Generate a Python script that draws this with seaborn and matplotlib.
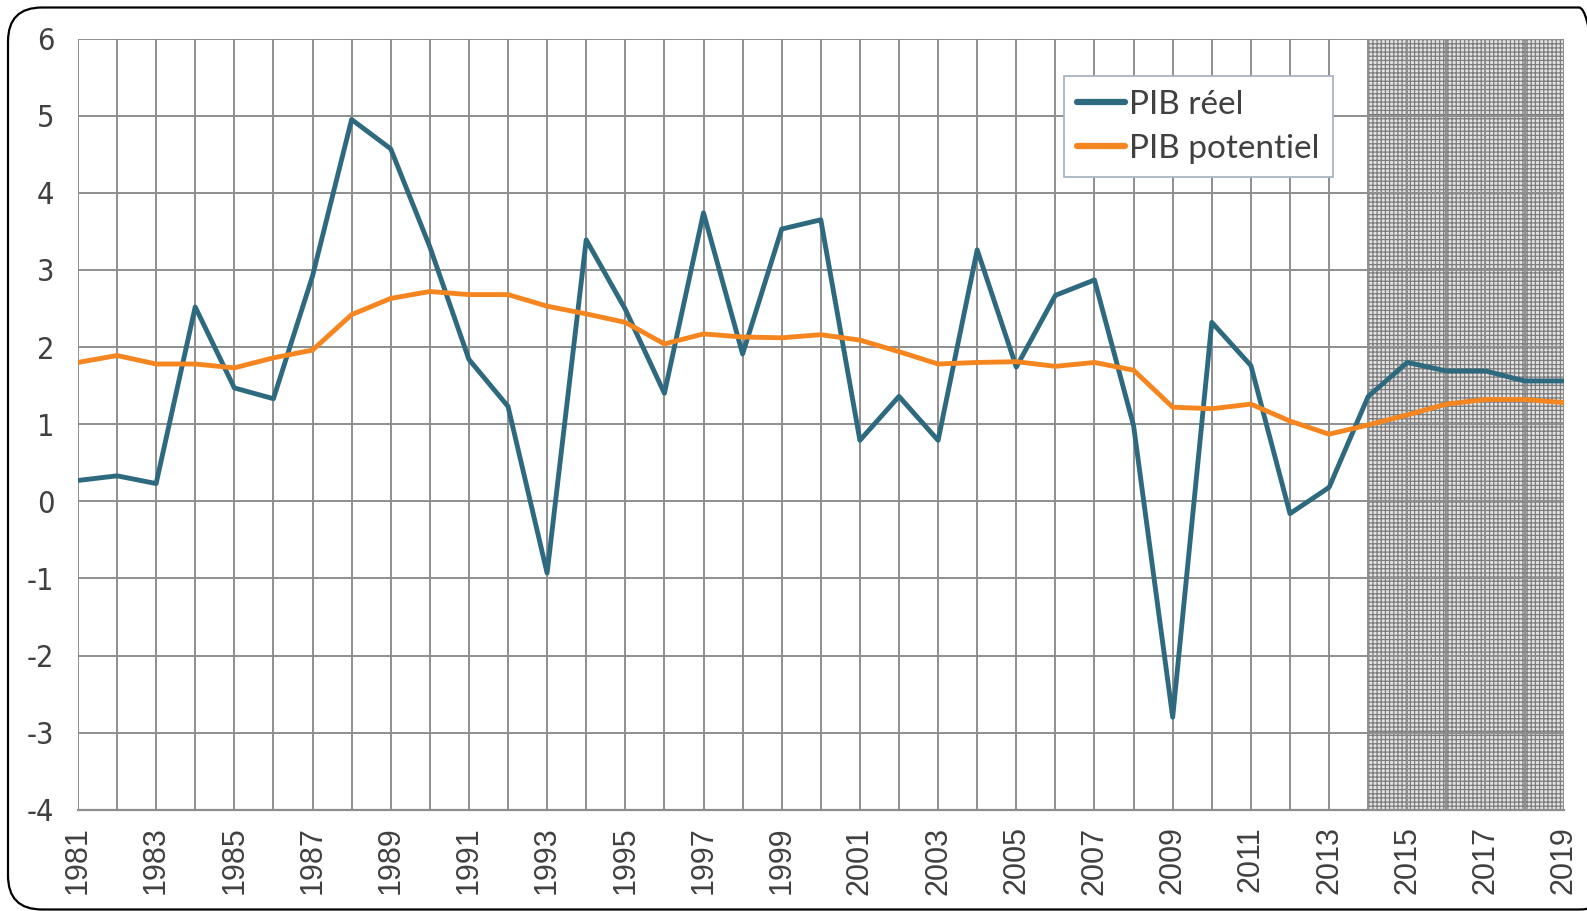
import matplotlib

matplotlib.use("Agg")

import matplotlib.pyplot as plt
import numpy as np
import pandas as pd
import seaborn as sns
from matplotlib.patches import FancyBboxPatch

years = list(range(1981, 2020))

pib_reel = [
    0.27, 0.33, 0.23, 2.52, 1.47, 1.33, 2.92, 4.95, 4.57, 3.30,
    1.84, 1.23, -0.93, 3.39, 2.49, 1.40, 3.74, 1.91, 3.53, 3.65,
    0.79, 1.36, 0.79, 3.26, 1.74, 2.67, 2.87, 0.98, -2.80, 2.32,
    1.76, -0.16, 0.18, 1.36, 1.80, 1.69, 1.69, 1.56, 1.56,
]
pib_potentiel = [
    1.80, 1.89, 1.78, 1.78, 1.73, 1.86, 1.96, 2.42, 2.63, 2.72,
    2.68, 2.68, 2.53, 2.43, 2.32, 2.04, 2.17, 2.13, 2.12, 2.16,
    2.09, 1.94, 1.78, 1.80, 1.81, 1.75, 1.80, 1.70, 1.22, 1.20,
    1.26, 1.04, 0.87, 0.99, 1.12, 1.26, 1.32, 1.32, 1.28,
]
series_names = ["PIB réel", "PIB potentiel"]
series_colors = ["#2D6A7F", "#F5861F"]
forecast_start, forecast_end = 2014, 2019

df = pd.DataFrame({"annee": years, series_names[0]: pib_reel, series_names[1]: pib_potentiel})
long_df = df.melt(id_vars="annee", var_name="serie", value_name="valeur")

sns.set_style("white")
plt.rcParams["font.family"] = ["Liberation Sans", "DejaVu Sans"]
plt.rcParams["hatch.color"] = "#7c7c7c"
plt.rcParams["hatch.linewidth"] = 0.9

fig = plt.figure(figsize=(15.87, 9.11), dpi=100)
ax = fig.add_axes([0.0491, 0.1111, 0.9362, 0.8466])

grid_color = "#8E8E8E"
text_color = "#404040"

# zone de prevision
ax.axvspan(forecast_start, forecast_end, facecolor="#e4e4e4", edgecolor="#7c7c7c",
           hatch="++++", linewidth=0, zorder=0)

sns.lineplot(data=long_df, x="annee", y="valeur", hue="serie",
             palette=dict(zip(series_names, series_colors)),
             linewidth=3.5, ax=ax, zorder=3)

ax.set_xlim(1981, 2019)
ax.set_ylim(-4, 6)
ax.set_xticks(years)
ax.set_xticklabels([str(y) if (y - 1981) % 2 == 0 else "" for y in years],
                   rotation=90, fontsize=22, color=text_color)
ax.set_yticks(np.arange(-4, 7, 1))
ax.set_yticklabels([str(v) for v in range(-4, 7)], fontsize=22, color=text_color,
                   family=["DejaVu Sans"], fontstretch="condensed")
ax.tick_params(axis="x", length=0, pad=12)
ax.tick_params(axis="y", length=9, width=1.4, color=grid_color, pad=8)
ax.grid(True, color=grid_color, linewidth=1.4, zorder=1)
ax.set_axisbelow(True)
for side in ["top", "right", "left"]:
    ax.spines[side].set_visible(False)
ax.spines["bottom"].set_color(grid_color)
ax.spines["bottom"].set_linewidth(1.6)
ax.set_xlabel("")
ax.set_ylabel("")

leg = ax.legend(loc="upper left", bbox_to_anchor=(0.6635, 0.951), frameon=True,
                fancybox=False, handlelength=1.45, handletextpad=0.12,
                borderpad=0.4, labelspacing=0.42, borderaxespad=0,
                prop={"family": ["Lato", "DejaVu Sans"], "size": 24})
leg.get_frame().set_edgecolor("#A9B4C2")
leg.get_frame().set_linewidth(1.3)
leg.get_frame().set_alpha(1)
for t in leg.get_texts():
    t.set_color(text_color)
for h in leg.get_lines():
    h.set_linewidth(4.5)
    h.set_solid_capstyle("round")

# cadre arrondi, coupe sur le bord droit comme dans l'original
border = FancyBboxPatch((0.08, 0.015), 16.05, 9.02,
                        boxstyle="round,pad=0,rounding_size=0.34",
                        transform=fig.dpi_scale_trans, facecolor="none",
                        edgecolor="black", linewidth=1.6, clip_on=False)
fig.patches.append(border)

fig.savefig("out.png", dpi=100)
